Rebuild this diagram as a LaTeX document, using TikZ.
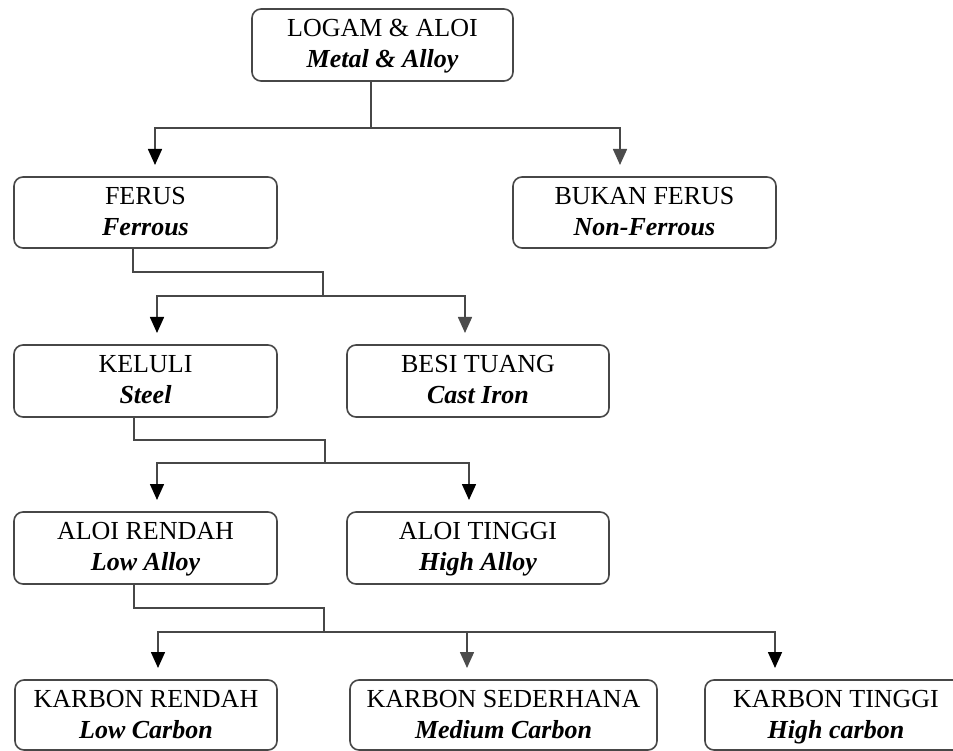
\documentclass[tikz,border=0pt]{standalone}
\usepackage{fontspec}
\setmainfont{Liberation Serif}
\usetikzlibrary{arrows.meta}
\tikzset{
  box/.style={draw=black!72, line width=1.6pt, rounded corners=9pt, inner sep=0pt, fill=white},
  ttop/.style={font=\fontsize{26}{31}\selectfont, anchor=base, inner sep=0pt},
  tbot/.style={font=\fontsize{26}{31}\selectfont\bfseries\itshape, anchor=base, inner sep=0pt},
  conn/.style={draw=black!72, line width=1.6pt},
  arrB/.style={-{Triangle[width=14pt,length=16pt,black]}},
  arrG/.style={-{Triangle[width=14pt,length=16pt,black!70]}},
}
\newcommand\mybox[7]{%
  \node[box, minimum width=#4pt, minimum height=#5pt] (#1) at (#2,{#3+#5/2}) {};
  \node[ttop] (#1a) at (#2,{#3+27.5}) {#6};
  \node[tbot] (#1b) at (#2,{#3+58.5}) {#7};
}
\begin{document}
\begin{tikzpicture}[x=1pt,y=-1pt]
\useasboundingbox (0,0) rectangle (953,751);
\fill[white] (0,0) rectangle (953,751);

\mybox{logam}{382.5}{9}{261}{72}{LOGAM \& ALOI}{Metal \& Alloy}
\mybox{ferus}{145.5}{177}{263}{71}{FERUS}{Ferrous}
\mybox{bukan}{644.5}{177}{263}{71}{BUKAN FERUS}{Non-Ferrous}
\mybox{keluli}{145.5}{345}{263}{72}{KELULI}{Steel}
\mybox{besi}{478}{345}{262}{72}{BESI TUANG}{Cast Iron}
\mybox{alor}{145.5}{512}{263}{72}{ALOI RENDAH}{Low Alloy}
\mybox{alot}{478}{512}{262}{72}{ALOI TINGGI}{High Alloy}
\mybox{kr}{146}{680}{262}{70}{KARBON RENDAH}{Low Carbon}
\mybox{ks}{503.5}{680}{307}{70}{KARBON SEDERHANA}{Medium Carbon}
\mybox{kt}{836}{680}{262}{70}{KARBON TINGGI}{High carbon}

% level 1
\coordinate (j1) at (371,128);
\coordinate (t1a) at (155,165);
\coordinate (t1b) at (620,165);
\draw[conn] ([xshift=-11.5pt]logam.south) -- (j1);
\draw[conn,arrB] (j1) -| (t1a);
\draw[conn,arrG] (j1) -| (t1b);

% level 2
\coordinate (e2) at (323,272);
\coordinate (j2) at (323,296);
\coordinate (t2a) at (157,333);
\coordinate (t2b) at (465,333);
\draw[conn] ([xshift=-12.5pt]ferus.south) |- (e2) -- (j2);
\draw[conn,arrB] (j2) -| (t2a);
\draw[conn,arrG] (j2) -| (t2b);

% level 3
\coordinate (e3) at (325,440);
\coordinate (j3) at (325,463);
\coordinate (t3a) at (157,500);
\coordinate (t3b) at (469,500);
\draw[conn] ([xshift=-11.5pt]keluli.south) |- (e3) -- (j3);
\draw[conn,arrB] (j3) -| (t3a);
\draw[conn,arrB] (j3) -| (t3b);

% level 4
\coordinate (e4) at (324,608);
\coordinate (j4) at (324,632);
\coordinate (t4a) at (158,668);
\coordinate (t4b) at (467,668);
\coordinate (t4c) at (775,668);
\draw[conn] ([xshift=-11.5pt]alor.south) |- (e4) -- (j4);
\draw[conn,arrB] (j4) -| (t4a);
\draw[conn,arrG] (j4) -| (t4b);
\draw[conn,arrB] (j4) -| (t4c);
\end{tikzpicture}
\end{document}
